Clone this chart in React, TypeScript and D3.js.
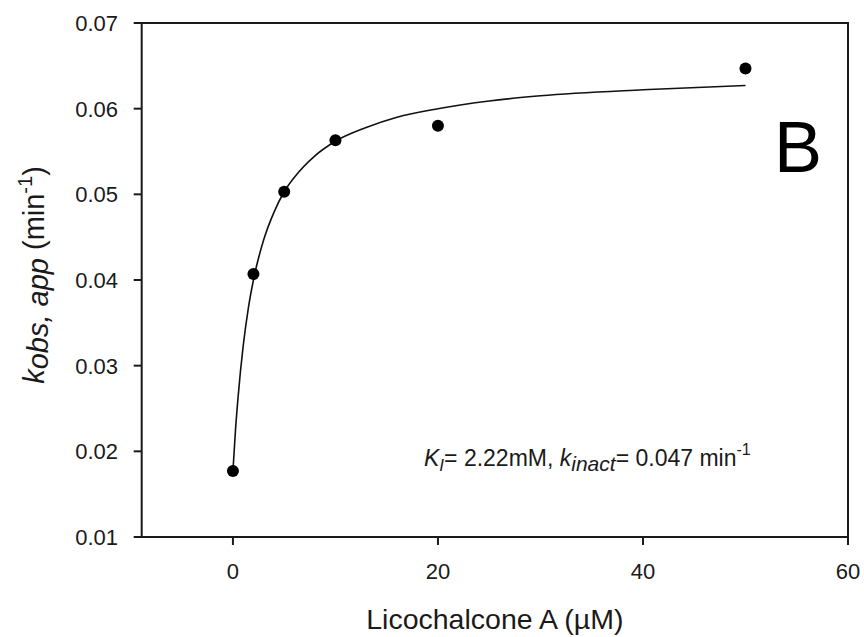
import React from "react";
import * as d3 from "d3";

// measured points (Licochalcone A concentration, kobs,app)
const concentrations = [0, 2, 5, 10, 20, 50];
const kobsValues = [0.0177, 0.0407, 0.0503, 0.0563, 0.058, 0.0647];

// fitted curve
const fitX = [0, 0.25, 0.5, 1, 1.5, 2, 3, 4, 5, 6, 8, 10, 13, 16, 20, 25, 30, 40, 50];
const fitY = [
  0.0177, 0.0225, 0.0263, 0.0323, 0.0367, 0.04, 0.0447, 0.0479, 0.0503, 0.052,
  0.0545, 0.0562, 0.0578, 0.059, 0.06, 0.0609, 0.0615, 0.0622, 0.0627,
];

const xTicks = [0, 20, 40, 60];
const yTicks = [0.01, 0.02, 0.03, 0.04, 0.05, 0.06, 0.07];

const W = 864;
const H = 637;
const left = 141.7;
const right = 848;
const top = 23;
const bottom = 537;

export default function App() {
  const x = d3.scaleLinear().domain([-8.9, 60]).range([left, right]);
  const y = d3.scaleLinear().domain([0.01, 0.07]).range([bottom, top]);

  // curve through the fitted values
  const line = d3
    .line<number>()
    .x((d, i) => x(fitX[i]))
    .y((d) => y(d))
    .curve(d3.curveMonotoneX);

  const font = "'Liberation Sans', Arial, sans-serif";
  const ink = "#1a1a1a";

  return (
    <svg
      width={W}
      height={H}
      style={{ position: "absolute", left: 0, top: 0, background: "#fff" }}
      fontFamily={font}
    >
      {/* frame */}
      <rect
        x={left}
        y={top}
        width={right - left}
        height={bottom - top}
        fill="none"
        stroke={ink}
        strokeWidth={2}
      />

      {/* y axis ticks + labels */}
      {yTicks.map((t) => (
        <g key={t} transform={`translate(0,${y(t)})`}>
          <line x1={left - 8} x2={left} stroke={ink} strokeWidth={2} />
          <text x={118} dy="0.36em" textAnchor="end" fontSize={22} fill={ink}>
            {t.toFixed(2)}
          </text>
        </g>
      ))}

      {/* x axis ticks + labels */}
      {xTicks.map((t) => (
        <g key={t} transform={`translate(${x(t)},0)`}>
          <line y1={bottom} y2={bottom + 8} stroke={ink} strokeWidth={2} />
          <text y={579} textAnchor="middle" fontSize={22} fill={ink}>
            {t}
          </text>
        </g>
      ))}

      {/* fit */}
      <path d={line(fitY) ?? ""} fill="none" stroke="#111" strokeWidth={1.6} />

      {/* data */}
      {concentrations.map((c, i) => (
        <circle key={c} cx={x(c)} cy={y(kobsValues[i])} r={6} fill="#000" />
      ))}

      {/* panel letter */}
      <text x={774} y={172} fontSize={72} fill="#000">
        B
      </text>

      {/* fit parameters */}
      <text x={424} y={466} fontSize={23} fill={ink}>
        <tspan fontStyle="italic">K</tspan>
        <tspan fontStyle="italic" fontSize={17} dy={5}>I</tspan>
        <tspan dy={-5}>= 2.22mM, </tspan>
        <tspan fontStyle="italic">k</tspan>
        <tspan fontStyle="italic" fontSize={21} dy={5}>inact</tspan>
        <tspan dy={-5}>= 0.047 min</tspan>
        <tspan fontSize={16} dy={-11}>-1</tspan>
      </text>

      {/* axis titles */}
      <text x={(left + right) / 2} y={629} textAnchor="middle" fontSize={28.5} fill={ink}>
        Licochalcone A (µM)
      </text>
      <text
        transform={`translate(44,${(top + bottom) / 2 - 5}) rotate(-90)`}
        textAnchor="middle"
        fontSize={29}
        fill={ink}
      >
        <tspan fontStyle="italic">k</tspan>
        <tspan fontStyle="italic" dy={4}>obs, app</tspan>
        <tspan dy={-4}> (min</tspan>
        <tspan fontSize={20} dy={-12}>-1</tspan>
        <tspan dy={12}>)</tspan>
      </text>
    </svg>
  );
}
